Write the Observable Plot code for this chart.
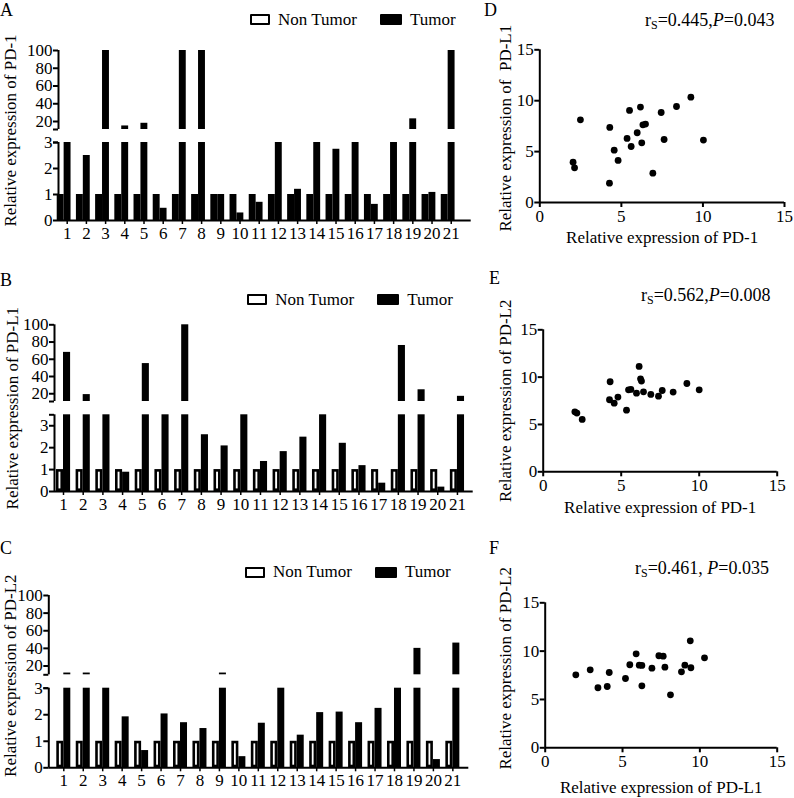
<!DOCTYPE html>
<html><head><meta charset="utf-8">
<script src="https://cdn.jsdelivr.net/npm/d3@7"></script>
<script src="https://cdn.jsdelivr.net/npm/@observablehq/plot@0.6"></script>
<style>
body{margin:0;background:#fff;}
#fig{position:relative;width:794px;height:798px;font-family:"Liberation Serif","Times New Roman",serif;color:#000;overflow:hidden;background:#fff}
#fig > *{position:absolute}
.letter{font-size:18px;line-height:20px}
.legend{display:flex;align-items:center;font-size:17px;line-height:20px;white-space:nowrap}
.sw{width:20px;height:11px;box-sizing:border-box;border:2.5px solid #000;background:#fff;border-radius:1px}
.sw.t{background:#000;width:22px}
.ann{font-size:18px;line-height:20px;white-space:nowrap}
.ann sub{font-size:12px;vertical-align:-3px;line-height:0}
</style></head><body><div id="fig"></div>
<script>
// ---- data ----
const cases = [1,2,3,4,5,6,7,8,9,10,11,12,13,14,15,16,17,18,19,20,21];
const yTicksBar = [0,1,2,3,20,40,60,80,100];
const scatterTicks = [0,5,10,15];

const pd1NonTumor = [1,1,1,1,1,1,1,1,1,1,1,1,1,1,1,1,1,1,1,1,1];
const pd1Tumor = [5,2.5,100,15,18,0.47,100,100,1,0.29,0.7,5,1.2,5,2.74,5,0.62,5,23,1.08,100];

const pdl1NonTumor = [1,1,1,1,1,1,1,1,1,1,1,1,1,1,1,1,1,1,1,1,1];
const pdl1Tumor = [68,19,5,0.88,55,5,100,2.59,2.08,5,1.37,1.82,2.48,5,2.2,1.18,0.38,76,24.6,0.2,17];

const pdl2NonTumor = [1,1,1,1,1,1,1,1,1,1,1,1,1,1,1,1,1,1,1,1,1];
const pdl2Tumor = [12,12,5,1.92,0.65,2.03,1.7,1.48,12,0.42,1.68,5,1.23,2.08,2.1,1.7,2.24,5,40,0.31,46];

const dPD1 = [2.04,2.13,2.49,4.27,4.29,4.56,4.80,5.35,5.50,5.60,5.97,6.17,6.25,6.32,6.48,6.93,7.44,7.62,8.38,9.26,10.03];
const dPDL1 = [3.96,3.41,8.12,1.90,7.37,5.14,4.13,6.29,9.04,5.50,6.85,9.37,5.86,7.63,7.70,2.88,8.84,6.19,9.43,10.35,6.13];

const ePD1 = [2.03,2.16,2.50,4.29,4.25,4.55,4.79,5.34,5.47,5.62,5.98,6.15,6.24,6.30,6.43,6.90,7.39,7.63,8.33,9.21,10.0];
const ePDL2 = [6.34,6.20,5.53,9.51,7.61,7.25,7.89,6.51,8.66,8.70,8.31,11.13,9.82,9.58,8.45,8.17,7.99,8.59,8.42,9.33,8.66];

const fPDL1 = [1.98,2.91,3.41,4.01,4.14,5.19,5.47,5.88,6.08,6.25,6.25,6.90,7.35,7.63,7.74,8.10,8.81,9.03,9.38,9.42,10.30];
const fPDL2 = [7.55,8.07,6.21,6.34,7.79,7.17,8.59,9.72,8.55,8.52,6.41,8.24,9.52,9.48,8.34,5.48,7.86,8.55,11.07,8.28,9.31];

// ---- helpers ----
const fig = document.getElementById("fig");
const FONT = '"Liberation Serif", "Times New Roman", serif';
function place(el, left, top){ el.style.left = left + "px"; el.style.top = top + "px"; fig.appendChild(el); return el; }
function html(tag, cls, inner){ const e = document.createElement(tag); if (cls) e.className = cls; e.innerHTML = inner; return e; }

function barPanel(cfg){
  const nt = cases.map((c,i)=>({c, v: cfg.nt[i]}));
  const tu = cases.map((c,i)=>({c, v: cfg.t[i]}));
  const W = 0.36;
  const lowTop = cfg.yDomain[1], brk = cfg.yDomain[2], top = cfg.yDomain[3];
  const segs = [{y1: 0, y2: lowTop}, {y1: brk, y2: top}];
  const s = cfg.shift;
  return Plot.plot({
    width: 480, height: cfg.height,
    marginLeft: cfg.ml, marginRight: cfg.mr,
    marginTop: cfg.yRange[3], marginBottom: cfg.height - cfg.yRange[0],
    style: {fontFamily: FONT, fontSize: "17px", background: "transparent", overflow: "visible", color: "black"},
    x: {type: "linear", domain: cfg.xDomain},
    y: {type: "linear", domain: cfg.yDomain, range: cfg.yRange},
    marks: [
      Plot.rectY(nt, {x1: d => d.c + s - W, x2: d => d.c + s, y1: 0, y2: d => Math.min(d.v, lowTop), fill: "white", stroke: "black", strokeWidth: cfg.ntStroke, inset: cfg.ntStroke/2}),
      Plot.rectY(nt.filter(d => d.v > brk), {x1: d => d.c + s - W, x2: d => d.c + s, y1: brk, y2: d => d.v, fill: "white", stroke: "black", strokeWidth: cfg.ntStroke, inset: cfg.ntStroke/2}),
      Plot.rectY(tu, {x1: d => d.c + s, x2: d => d.c + s + W, y1: 0, y2: d => Math.min(d.v, lowTop), fill: "black"}),
      Plot.rectY(tu.filter(d => d.v > brk), {x1: d => d.c + s, x2: d => d.c + s + W, y1: brk, y2: d => d.v, fill: "black"}),
      Plot.ruleY([0], {strokeWidth: 2}),
      Plot.ruleX(segs, {x: cfg.xDomain[0], y1: d => d.y1, y2: d => d.y2, strokeWidth: 2}),
      Plot.axisY({ticks: yTicksBar, tickSize: 5, tickPadding: 1, strokeWidth: 2, label: null, tickFormat: d => String(d)}),
      Plot.axisY({ticks: [lowTop, brk], tickSize: 5, strokeWidth: 2, label: null, tickFormat: () => ""}),
      Plot.axisX({ticks: cases, tickSize: 4, tickPadding: 2, strokeWidth: 1.5, label: null, tickFormat: d => String(d)}),
      Plot.text([cfg.ylabel], {text: d => d, frameAnchor: "left", textAnchor: "middle", lineAnchor: "middle", rotate: -90, dx: cfg.ylabDx, dy: cfg.ylabDy})
    ]
  });
}

function scatterPanel(cfg){
  const pts = cfg.x.map((x,i)=>({x, y: cfg.y[i]}));
  return Plot.plot({
    width: 314, height: cfg.height,
    marginLeft: cfg.ml, marginRight: cfg.mr, marginTop: cfg.mt, marginBottom: cfg.mb,
    style: {fontFamily: FONT, fontSize: "17px", background: "transparent", overflow: "visible", color: "black"},
    x: {domain: [0, 15]},
    y: {domain: [0, 15]},
    marks: [
      Plot.ruleX([0], {strokeWidth: 2}),
      Plot.ruleY([0], {strokeWidth: 2}),
      Plot.axisX({ticks: scatterTicks, tickSize: 5, tickPadding: 2, strokeWidth: 2, label: null}),
      Plot.axisY({ticks: scatterTicks, tickSize: 5, tickPadding: 1, strokeWidth: 2, label: null}),
      Plot.dot(pts, {x: "x", y: "y", r: 3.4, fill: "black"}),
      Plot.text([cfg.xlabel], {text: d => d, frameAnchor: "bottom", textAnchor: "middle", lineAnchor: "middle", dy: cfg.xlabDy}),
      Plot.text([cfg.ylabel], {text: d => d, frameAnchor: "left", textAnchor: "middle", lineAnchor: "middle", rotate: -90, dx: cfg.ylabDx, dy: cfg.ylabDy})
    ]
  });
}

function legend(left, top){
  const e = html("div", "legend",
    '<span class="sw"></span><span style="margin-left:8px">Non Tumor</span>' +
    '<span class="sw t" style="margin-left:23px"></span><span style="margin-left:8px">Tumor</span>');
  return place(e, left, top);
}

// ---- panels A, B, C ----
place(barPanel({nt: pd1NonTumor, t: pd1Tumor, height: 245, ml: 58, mr: 9.3,
  xDomain: [0.547, 22.04], yDomain: [0, 3, 11, 100], yRange: [220, 142, 129, 50],
  shift: -0.16, ntStroke: 3.6, ylabel: "Relative expression of PD-1", ylabDx: -48, ylabDy: -5}), 0, 0);
place(barPanel({nt: pdl1NonTumor, t: pdl1Tumor, height: 245, ml: 54, mr: 7.3,
  xDomain: [0.543, 21.8], yDomain: [0, 3.5, 11, 100], yRange: [221, 144.3, 131, 54.3],
  shift: 0, ntStroke: 2.6, ylabel: "Relative expression of PD-L1", ylabDx: -42, ylabDy: 0}), 0, 270);
place(barPanel({nt: pdl2NonTumor, t: pdl2Tumor, height: 255, ml: 48.3, mr: 11.7,
  xDomain: [0.229, 21.82], yDomain: [0, 3, 10, 100], yRange: [227.3, 147.7, 134.3, 55],
  shift: 0, ntStroke: 2.6, ylabel: "Relative expression of PD-L2", ylabDx: -38.3, ylabDy: -6}), 0, 540);

// ---- panels D, E, F ----
place(scatterPanel({x: dPD1, y: dPDL1, height: 250, ml: 59.3, mr: 10, mt: 49.3, mb: 48,
  xlabel: "Relative expression of PD-1", ylabel: "Relative expression of  PD-L1", xlabDy: 35, ylabDx: -34.3, ylabDy: 2}), 480, 0);
place(scatterPanel({x: ePD1, y: ePDL2, height: 250, ml: 62.7, mr: 17.3, mt: 59.3, mb: 48.7,
  xlabel: "Relative expression of PD-1", ylabel: "Relative expression of PD-L2", xlabDy: 35.4, ylabDx: -37.7, ylabDy: 0}), 480, 270);
place(scatterPanel({x: fPDL1, y: fPDL2, height: 268, ml: 64.7, mr: 17.3, mt: 72.3, mb: 50.7,
  xlabel: "Relative expression of PD-L1", ylabel: "Relative expression of PD-L2", xlabDy: 39.4, ylabDx: -39.7, ylabDy: -7}), 480, 530);

// ---- legends ----
legend(250, 9.5);
legend(247.3, 289.5);
legend(245, 562);

// ---- panel letters ----
place(html("div", "letter", "A"), 0, 0);
place(html("div", "letter", "B"), 0, 270);
place(html("div", "letter", "C"), 0, 538);
place(html("div", "letter", "D"), 484, 0);
place(html("div", "letter", "E"), 489, 268);
place(html("div", "letter", "F"), 489, 538);

// ---- annotations ----
place(html("div", "ann", "r<sub>S</sub>=0.445,<i>P</i>=0.043"), 645, 10);
place(html("div", "ann", "r<sub>S</sub>=0.562,<i>P</i>=0.008"), 641, 285);
place(html("div", "ann", "r<sub>S</sub>=0.461, <i>P</i>=0.035"), 635, 558);
</script></body></html>
